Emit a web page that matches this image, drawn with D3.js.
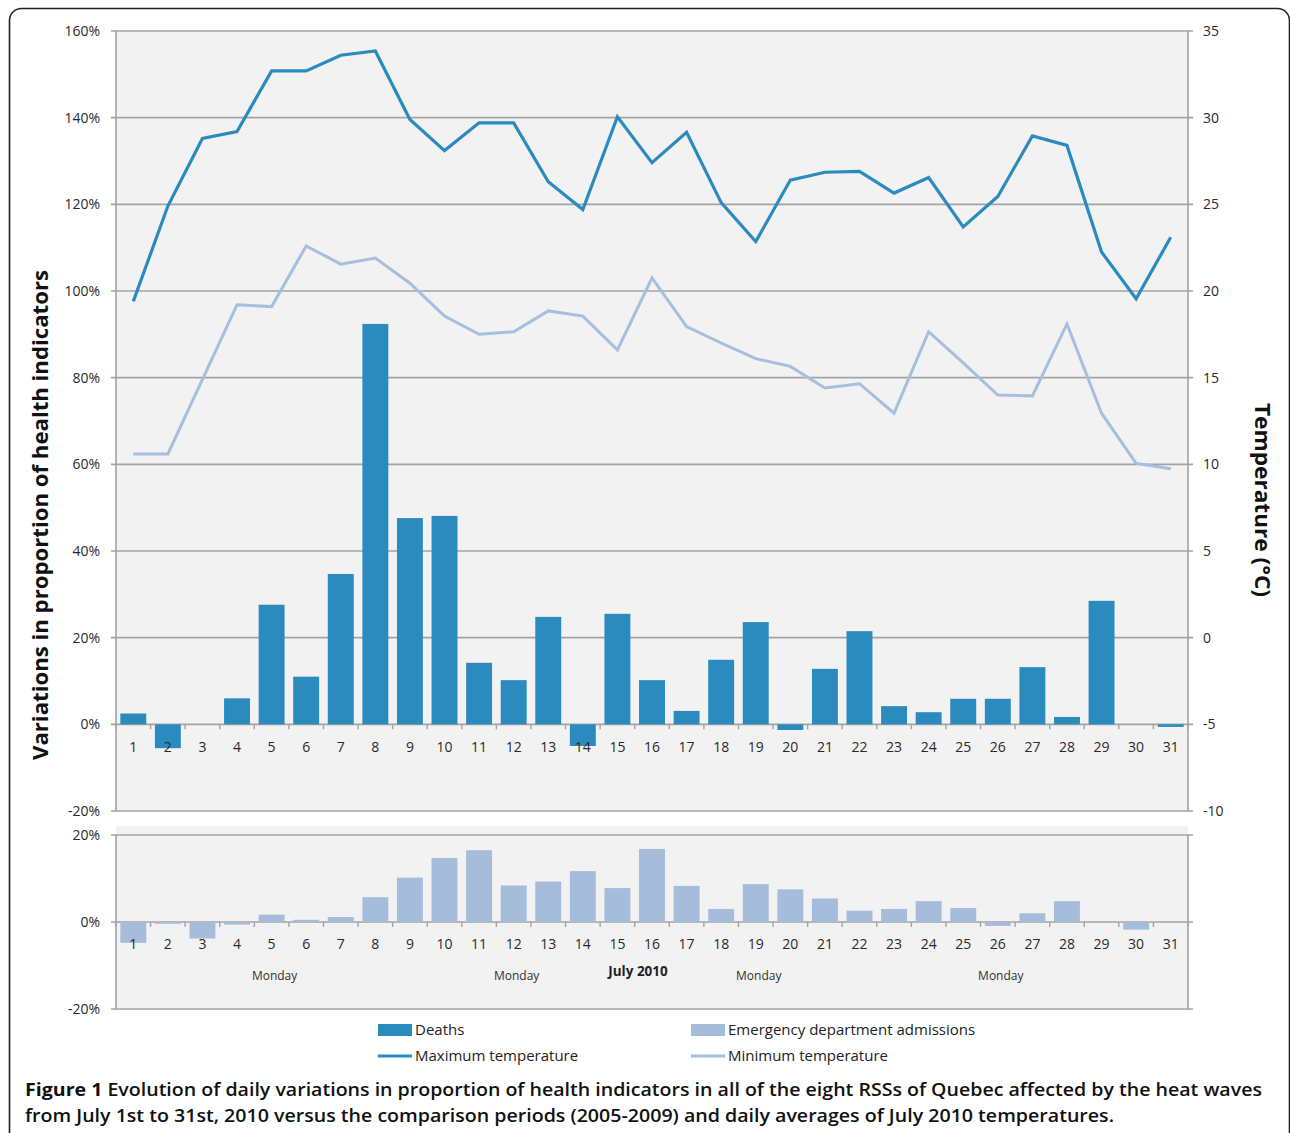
<!DOCTYPE html>
<html>
<head>
<meta charset="utf-8">
<script src="https://cdn.jsdelivr.net/npm/d3@7"></script>
<style>
  body { margin: 0; background: #fff; }
  svg { display: block; font-family: "Open Sans", "DejaVu Sans", sans-serif; }
</style>
</head>
<body>
<script>
// data (July 2010)
var days = d3.range(1, 32).map(String);
var deaths = [2.5, -5.5, 0, 6, 27.6, 11, 34.7, 92.4, 47.6, 48.1, 14.2, 10.2, 24.8, -5, 25.5, 10.2,
  3.1, 14.9, 23.6, -1.3, 12.8, 21.5, 4.2, 2.8, 5.9, 5.9, 13.2, 1.7, 28.5, 0, -0.6];
var edAdmissions = [-4.8, -0.4, -3.8, -0.6, 1.7, 0.5, 1.15, 5.7, 10.2, 14.7, 16.5, 8.4, 9.3, 11.7, 7.8, 16.8,
  8.3, 3.0, 8.7, 7.5, 5.4, 2.6, 3.0, 4.8, 3.2, -0.9, 2.0, 4.8, 0, -1.75, 0];
var maxTemp = [19.4, 24.9, 28.8, 29.2, 32.7, 32.7, 33.6, 33.85, 29.9, 28.1, 29.7, 29.7, 26.3, 24.7, 30.05, 27.4,
  29.15, 25.1, 22.85, 26.4, 26.85, 26.9, 25.65, 26.55, 23.7, 25.45, 28.95, 28.4, 22.25, 19.55, 23.1];
var minTemp = [10.6, 10.6, 14.9, 19.2, 19.1, 22.6, 21.55, 21.9, 20.45, 18.55, 17.5, 17.65, 18.85, 18.55, 16.6, 20.75,
  17.95, 17.0, 16.1, 15.65, 14.4, 14.65, 12.95, 17.65, 15.85, 14.0, 13.95, 18.1, 12.95, 10.05, 9.75];
var leftTicks = [-20, 0, 20, 40, 60, 80, 100, 120, 140, 160];
var rightTicks = [-10, -5, 0, 5, 10, 15, 20, 25, 30, 35];
var bottomTicks = [-20, 0, 20];
var mondays = ["5", "12", "19", "26"];

var cDeaths = "#2b8bbe", cEd = "#a6bcdb", cMax = "#2b8bbe", cMin = "#a6bedf";
var gridCol = "#a3a3a3";

var svg = d3.select("body").append("svg")
  .attr("width", 1290)
  .attr("height", 1133);

// frame
svg.append("rect")
  .attr("x", 9.5).attr("y", 8.5)
  .attr("width", 1280).attr("height", 1150)
  .attr("rx", 12)
  .attr("fill", "none").attr("stroke", "#222").attr("stroke-width", 1.6);

var L = 116, R = 1188;
var x = d3.scaleBand().domain(days).range([L, R]).paddingInner(0.25).paddingOuter(0.125);
var yTop = d3.scaleLinear().domain([-20, 160]).range([811, 31]);
var yTemp = d3.scaleLinear().domain([-10, 35]).range([811, 31]);
var yBot = d3.scaleLinear().domain([-20, 20]).range([1009, 835]);
var cx = function(d) { return x(d) + x.bandwidth() / 2; };

// plot backgrounds
svg.append("rect").attr("x", L).attr("y", yTop(160) - 1).attr("width", R - L).attr("height", yTop(-20) - yTop(160) + 1).attr("fill", "#f2f2f2");
svg.append("rect").attr("x", L).attr("y", 826).attr("width", R - L).attr("height", yBot(-20) - 826).attr("fill", "#f2f2f2");

function grid(scale, ticks) {
  svg.append("g").selectAll("line").data(ticks).join("line")
    .attr("x1", L - 5).attr("x2", R + 5)
    .attr("y1", function(d) { return scale(d); }).attr("y2", function(d) { return scale(d); })
    .attr("stroke", gridCol).attr("stroke-width", 1.6);
}
grid(yTop, leftTicks);
grid(yBot, bottomTicks);

// vertical axis lines
[[yTop(160), yTop(-20)], [yBot(20), yBot(-20)]].forEach(function(r) {
  svg.append("line").attr("x1", L).attr("x2", L).attr("y1", r[0]).attr("y2", r[1]).attr("stroke", gridCol).attr("stroke-width", 1.6);
  svg.append("line").attr("x1", R).attr("x2", R).attr("y1", r[0]).attr("y2", r[1]).attr("stroke", gridCol).attr("stroke-width", 1.6);
});

// axis labels
var fmtPct = function(d) { return d + "%"; };
var leftAxis = svg.append("g").attr("transform", "translate(" + (L - 13) + ",0)")
  .call(d3.axisLeft(yTop).tickValues(leftTicks).tickFormat(fmtPct).tickSize(0));
var rightAxis = svg.append("g").attr("transform", "translate(" + (R + 12) + ",0)")
  .call(d3.axisRight(yTemp).tickValues(rightTicks).tickFormat(function(d) { return String(d); }).tickSize(0));
var botAxis = svg.append("g").attr("transform", "translate(" + (L - 13) + ",0)")
  .call(d3.axisLeft(yBot).tickValues(bottomTicks).tickFormat(fmtPct).tickSize(0));
[leftAxis, rightAxis, botAxis].forEach(function(g) {
  g.select(".domain").remove();
  g.selectAll("text").attr("font-size", 14).attr("fill", "#2a2a2a").attr("font-family", "Open Sans, sans-serif");
});

// deaths bars
svg.append("g").selectAll("rect").data(days).join("rect")
  .attr("x", function(d) { return x(d); })
  .attr("width", x.bandwidth())
  .attr("y", function(d, i) { return yTop(Math.max(0, deaths[i])); })
  .attr("height", function(d, i) { return Math.abs(yTop(deaths[i]) - yTop(0)); })
  .attr("fill", cDeaths);

// ED bars
svg.append("g").selectAll("rect").data(days).join("rect")
  .attr("x", function(d) { return x(d); })
  .attr("width", x.bandwidth())
  .attr("y", function(d, i) { return yBot(Math.max(0, edAdmissions[i])); })
  .attr("height", function(d, i) { return Math.abs(yBot(edAdmissions[i]) - yBot(0)); })
  .attr("fill", cEd);

// category ticks on zero lines
var bounds = days.map(function(d) { return x(d) - (x.step() - x.bandwidth()) / 2; }).concat([R]);
[yTop(0), yBot(0)].forEach(function(y0) {
  svg.append("g").selectAll("line").data(bounds).join("line")
    .attr("x1", function(d) { return d; }).attr("x2", function(d) { return d; })
    .attr("y1", y0).attr("y2", y0 + 5)
    .attr("stroke", gridCol).attr("stroke-width", 1.4);
});

// day labels
[yTop(0) + 28, yBot(0) + 27].forEach(function(yy) {
  svg.append("g").selectAll("text").data(days).join("text")
    .attr("x", cx).attr("y", yy)
    .attr("text-anchor", "middle").attr("font-size", 14).attr("fill", "#2a2a2a")
    .text(function(d) { return d; });
});

// temperature lines
var line = function(vals) {
  return d3.line().x(function(d) { return cx(d); }).y(function(d, i) { return yTemp(vals[i]); })(days);
};
svg.append("path").attr("d", line(minTemp)).attr("fill", "none").attr("stroke", cMin).attr("stroke-width", 3);
svg.append("path").attr("d", line(maxTemp)).attr("fill", "none").attr("stroke", cMax).attr("stroke-width", 3.2);

// monday + month labels
svg.append("g").selectAll("text").data(mondays).join("text")
  .attr("x", function(d) { return cx(d) + 3; }).attr("y", 980)
  .attr("text-anchor", "middle").attr("font-size", 12).attr("fill", "#333")
  .text("Monday");
svg.append("text").attr("x", 638).attr("y", 976).attr("text-anchor", "middle")
  .attr("font-size", 13.5).attr("font-weight", "bold").attr("fill", "#222").text("July 2010");

// axis titles
svg.append("text").attr("transform", "translate(48,515) rotate(-90)")
  .attr("text-anchor", "middle").attr("font-size", 22).attr("font-weight", "bold").attr("fill", "#111")
  .attr("textLength", 490).attr("lengthAdjust", "spacingAndGlyphs")
  .text("Variations in proportion of health indicators");
svg.append("text").attr("transform", "translate(1255,500) rotate(90)")
  .attr("text-anchor", "middle").attr("font-size", 22).attr("font-weight", "bold").attr("fill", "#111")
  .attr("textLength", 194).attr("lengthAdjust", "spacingAndGlyphs")
  .text("Temperature (°C)");

// legend
var legend = [
  {label: "Deaths", type: "bar", color: cDeaths, x: 378, y: 1030},
  {label: "Emergency department admissions", type: "bar", color: cEd, x: 691, y: 1030},
  {label: "Maximum temperature", type: "line", color: cMax, x: 378, y: 1056},
  {label: "Minimum temperature", type: "line", color: cMin, x: 691, y: 1056}
];
var lg = svg.append("g").selectAll("g").data(legend).join("g")
  .attr("transform", function(d) { return "translate(" + d.x + "," + d.y + ")"; });
lg.filter(function(d) { return d.type === "bar"; }).append("rect")
  .attr("x", 0).attr("y", -6).attr("width", 34).attr("height", 12).attr("fill", function(d) { return d.color; });
lg.filter(function(d) { return d.type === "line"; }).append("line")
  .attr("x1", 0).attr("x2", 34).attr("y1", 0).attr("y2", 0)
  .attr("stroke", function(d) { return d.color; }).attr("stroke-width", 3.2);
lg.append("text").attr("x", 37).attr("y", 5).attr("font-size", 15).attr("fill", "#222")
  .text(function(d) { return d.label; });

// caption
var cap1 = svg.append("text").attr("x", 25).attr("y", 1096).attr("font-size", 18).attr("fill", "#111")
  .attr("textLength", 1237).attr("lengthAdjust", "spacingAndGlyphs");
cap1.append("tspan").attr("font-weight", "bold").text("Figure 1 ");
cap1.append("tspan").attr("font-weight", 600).text("Evolution of daily variations in proportion of health indicators in all of the eight RSSs of Quebec affected by the heat waves");
svg.append("text").attr("x", 25).attr("y", 1122).attr("font-size", 18).attr("font-weight", 600).attr("fill", "#111")
  .attr("textLength", 1089).attr("lengthAdjust", "spacingAndGlyphs")
  .text("from July 1st to 31st, 2010 versus the comparison periods (2005-2009) and daily averages of July 2010 temperatures.");
</script>
</body>
</html>
